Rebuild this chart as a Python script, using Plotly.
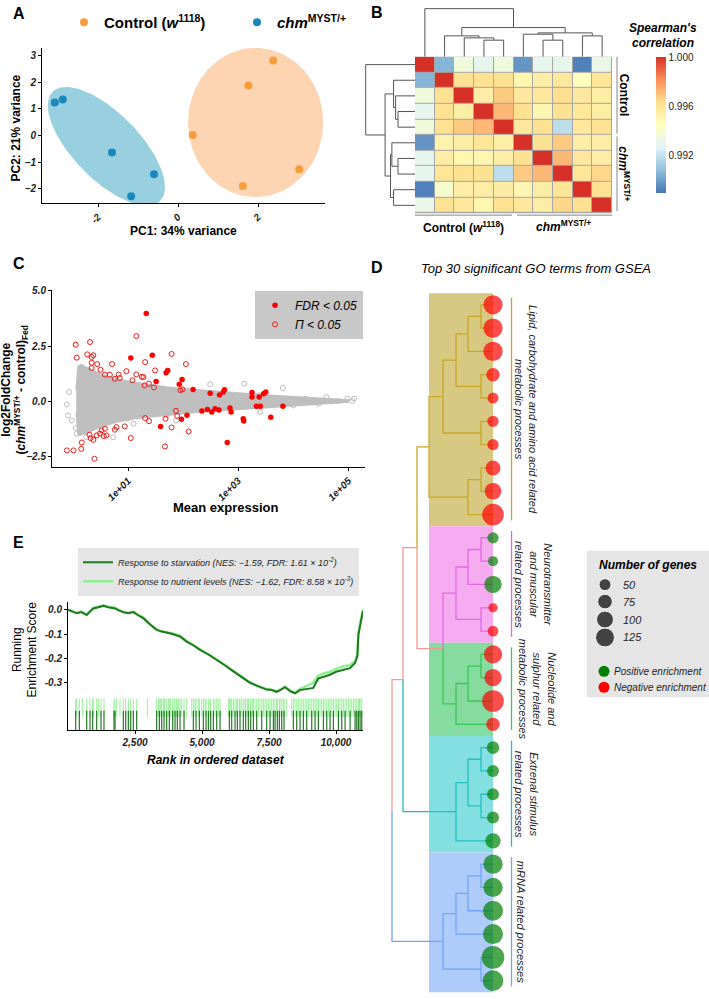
import numpy as np
import plotly.graph_objects as go

W, H = 709, 999
FONT = "Liberation Sans, Arial, Helvetica, sans-serif"


def X(px):
    return px / W


def Y(py):
    return 1 - py / H


# ---------------- Panel A: PCA ----------------
pca_control_pc1 = [0.37, 1.76, 2.38, 3.03, 1.62]
pca_control_pc2 = [0.02, 1.88, 2.82, -1.27, -1.90]
pca_chm_pc1 = [-3.08, -2.88, -1.65, -0.60, -1.17]
pca_chm_pc2 = [1.24, 1.35, -0.64, -1.46, -2.29]
# confidence ellipses: centre x, centre y, semi-axis 1 (dx, dy), semi-axis 2 (dx, dy)
ellipse_control = [1.94, 0.49, 1.69, 0.0, 0.0, 2.81]
ellipse_chm = [-1.79, -0.41, 1.34, -2.06, 0.59, 0.87]

# ---------------- Panel B: Spearman correlation heatmap ----------------
hm_z = [
    [1.0000, 0.9905, 0.9935, 0.9930, 0.9935, 0.9897, 0.9930, 0.9930, 0.9892, 0.9932],
    [0.9905, 1.0000, 0.9962, 0.9962, 0.9962, 0.9950, 0.9955, 0.9958, 0.9945, 0.9960],
    [0.9935, 0.9962, 1.0000, 0.9955, 0.9968, 0.9958, 0.9958, 0.9963, 0.9958, 0.9955],
    [0.9930, 0.9962, 0.9955, 1.0000, 0.9972, 0.9962, 0.9950, 0.9962, 0.9958, 0.9955],
    [0.9935, 0.9962, 0.9968, 0.9972, 1.0000, 0.9958, 0.9962, 0.9918, 0.9958, 0.9962],
    [0.9897, 0.9952, 0.9955, 0.9960, 0.9955, 1.0000, 0.9962, 0.9968, 0.9955, 0.9955],
    [0.9930, 0.9955, 0.9950, 0.9950, 0.9955, 0.9962, 1.0000, 0.9972, 0.9958, 0.9955],
    [0.9930, 0.9960, 0.9962, 0.9962, 0.9918, 0.9968, 0.9972, 1.0000, 0.9960, 0.9965],
    [0.9892, 0.9940, 0.9955, 0.9955, 0.9955, 0.9950, 0.9955, 0.9960, 1.0000, 0.9962],
    [0.9932, 0.9962, 0.9958, 0.9950, 0.9962, 0.9958, 0.9955, 0.9965, 0.9962, 1.0000],
]
hm_zmin, hm_zmax = 0.9889, 1.0
hm_colors = ["#4575B4", "#91BFDB", "#E0F3F8", "#FFFFBF", "#FEE090", "#FC8D59", "#D73027"]
hm_cbar_ticks = [0.992, 0.996, 1.000]
# hierarchical clustering (leaf a, leaf/node b, height)
hm_merges = [(3, 4, 50), (2, 10, 57), (1, 11, 63), (6, 7, 50), (5, 13, 68),
             (8, 9, 63), (14, 15, 72), (12, 16, 88), (0, 17, 145)]

# ---------------- Panel C: MA plot ----------------
ma_env_log10_mean = [0.06, 0.09, 0.13, 0.31, 0.49, 0.8, 1.1, 1.7, 2.3, 2.9, 3.5, 4.1, 4.7, 5.0]
ma_env_upper = [0.5, 1.55, 1.63, 1.47, 1.24, 1.0, 0.86, 0.64, 0.5, 0.38, 0.28, 0.18, 0.1, 0.05]
ma_env_lower = [-0.5, -1.5, -1.55, -1.4, -1.18, -0.95, -0.8, -0.64, -0.5, -0.38, -0.28, -0.18, -0.1, -0.05]
ma_ns_log10_mean = [-0.07, -0.11, -0.09, -0.02, 0.05, 0.16, 0.10, 0.24, 0.73, 2.49, 3.11, 3.81, 3.37,
                    4.22, 4.37, 4.52, 4.60, 4.70, 4.82, 4.98, 5.07, 5.10, 4.46, 4.00, 3.40, 1.87,
                    1.10, 1.70, 0.98, 0.07]
ma_ns_lfc = [0.41, -0.15, -0.65, -0.88, -1.23, 1.55, 0.71, -1.64, -1.64, 0.76, 0.79, 0.59, 0.26,
             0.11, 0.0, 0.0, 0.18, 0.0, 0.0, 0.11, 0.0, 0.11, -0.12, -0.2, -0.5, -0.88,
             -1.03, -0.65, -0.8, -1.48]
ma_fdr_log10_mean = [1.33, 1.05, 1.44, 1.69, 1.72, 1.51, 1.98, 1.93, 2.18, 2.49, 2.66, 2.75, 2.73,
                     3.25, 3.38, 3.25, 3.46, 3.50, 2.34, 2.44, 2.52, 2.58, 2.65, 2.85, 2.87, 3.09,
                     3.10, 3.33, 3.40, 3.81, 3.59, 2.80, 1.59, 1.97, 2.07]
ma_fdr_lfc = [3.98, 1.95, 2.08, 1.29, 1.39, 0.89, 0.98, 0.76, 0.53, 0.36, 0.27, 0.51, 0.41,
              0.39, 0.18, 0.18, 0.33, 0.41, -0.45, -0.38, -0.50, -0.35, -0.40, -0.32, -0.50, -0.80,
              -0.90, -0.23, -0.23, -0.23, -0.74, -1.88, -1.15, -0.82, -0.64]
ma_p_log10_mean = [0.05, 0.31, 1.15, 1.79, 1.31, 2.05, 0.07, 0.26, 0.34, 0.37, 0.34, 0.34, 0.44,
                   0.50, 0.71, 0.58, 0.67, 0.83, 0.85, 0.76, 0.97, 1.15, 1.25, 1.28, 1.49, 1.08,
                   1.38, 1.30, 1.47, 1.95, 1.99,
                   -0.11, 0.01, 0.15, 0.16, 0.39, 0.30, 0.32, 0.37, 0.43, 0.49, 0.52, 0.58, 0.61,
                   0.56, 0.76, 0.79, 0.94, 1.05, 1.31, 1.38, 1.67, 1.79, 1.68, 1.89, 2.10, 1.87]
ma_p_lfc = [2.56, 2.68, 2.95, 2.14, 1.77, 1.68, 1.97, 2.12, 2.00, 2.08, 1.74, 1.50, 1.68,
            1.42, 1.68, 1.20, 1.20, 1.20, 1.05, 1.01, 1.36, 1.21, 1.10, 1.09, 1.39, 0.94,
            0.79, 0.71, 0.62, 0.49, 0.53,
            -2.24, -2.24, -2.17, -1.88, -2.62, -1.53, -1.68, -1.76, -1.56, -1.48, -1.33, -1.26, -1.56,
            -1.59, -1.30, -1.18, -1.15, -1.68, -0.77, -0.91, -2.06, -1.20, -0.80, -0.67, -1.38, -0.44]

# ---------------- Panel D: GO term dendrogram ----------------
go_genes = [129, 129, 129, 62, 42, 44, 44, 78, 97, 163,
            44, 35, 104, 30, 40,
            116, 104, 163, 62,
            56, 50, 50, 50, 81,
            129, 129, 139, 139, 178, 148]
go_direction = ["neg"] * 10 + ["pos", "pos", "pos", "neg", "neg"] + ["neg"] * 4 + ["pos"] * 5 + ["pos"] * 6
go_cluster = [0] * 10 + [1] * 5 + [2] * 4 + [3] * 5 + [4] * 6
go_cluster_labels = [
    "Lipid, carbohydrate and amino acid related<br>metabolic processes",
    "Neurotransmitter<br>and muscular<br>related processes",
    "Nucleotide and<br>sulphur related<br>metabolic processes",
    "Extrenal stimulus<br>related processes",
    "mRNA related processes",
]
go_merges = [
    (0, 1, 0.12), (30, 2, 0.25), (3, 4, 0.12), (31, 32, 0.37), (5, 6, 0.12),
    (33, 34, 0.50), (7, 8, 0.12), (36, 9, 0.25), (35, 37, 0.64),
    (10, 11, 0.12), (39, 12, 0.25), (13, 14, 0.12), (40, 41, 0.37),
    (15, 16, 0.12), (43, 17, 0.25), (44, 18, 0.37), (42, 45, 0.50), (38, 46, 0.76),
    (19, 20, 0.12), (21, 22, 0.12), (48, 49, 0.25), (50, 23, 0.37), (47, 51, 0.90),
    (24, 25, 0.12), (53, 26, 0.25), (54, 27, 0.37), (28, 29, 0.12), (55, 56, 0.50),
    (52, 57, 1.01),
]
size_breaks = [50, 75, 100, 125]

# ---------------- Panel E: GSEA running score ----------------
es_rank = [0, 150, 323, 500, 696, 820, 945, 1130, 1318, 1500, 1754, 1900, 2065, 2250, 2438, 2600,
           2811, 3050, 3308, 3500, 3682, 3900, 4179, 4428, 4700, 4925, 5250, 5547, 5850, 6169,
           6500, 6791, 7100, 7413, 7600, 7786, 7950, 8097, 8300, 8470, 8650, 8781, 8950, 9154,
           9250, 9340, 9550, 9776, 10000, 10273, 10522, 10709, 10800, 10833, 10920, 11007]
es_starvation = [0.0, -0.008, -0.015, -0.010, -0.022, -0.008, 0.005, 0.010, 0.016, 0.010, 0.005,
                 -0.003, -0.011, -0.015, -0.010, -0.022, -0.035, -0.060, -0.083, -0.090, -0.094,
                 -0.100, -0.110, -0.131, -0.148, -0.165, -0.185, -0.205, -0.228, -0.253, -0.278,
                 -0.300, -0.315, -0.328, -0.330, -0.337, -0.328, -0.318, -0.335, -0.343, -0.330,
                 -0.328, -0.325, -0.321, -0.300, -0.282, -0.275, -0.267, -0.255, -0.246, -0.240,
                 -0.219, -0.190, -0.103, -0.050, -0.005]
es_nutrient = [0.0, -0.006, -0.013, -0.008, -0.020, -0.006, 0.007, 0.012, 0.018, 0.012, 0.008,
               -0.001, -0.009, -0.013, -0.008, -0.020, -0.033, -0.058, -0.081, -0.088, -0.092,
               -0.098, -0.108, -0.129, -0.146, -0.163, -0.183, -0.203, -0.226, -0.251, -0.276,
               -0.298, -0.313, -0.326, -0.328, -0.335, -0.326, -0.316, -0.332, -0.340, -0.326,
               -0.320, -0.310, -0.300, -0.283, -0.270, -0.262, -0.255, -0.243, -0.232, -0.228,
               -0.210, -0.180, -0.100, -0.045, 0.0]
hits_starvation = [286, 423, 697, 821, 921, 1070, 1232, 1343, 1717, 1754, 2065, 2152, 2252, 2339,
                   2438, 2563, 3309, 3409, 3496, 3583, 3682, 3782, 3906, 3993, 4080, 4180, 4329,
                   4677, 4777, 4901, 5051, 5150, 5237, 5324, 5424, 5548, 5673, 6021, 6108, 6232,
                   6319, 6419, 6543, 6630, 6730, 6817, 6917, 7041, 7228, 7414, 7539, 7663, 7725,
                   7812, 7887, 7974, 8061, 8409, 8534, 8658, 8783, 8907, 9094, 9218, 9343, 9530,
                   9654, 9779, 9903, 10090, 10214, 10339, 10526, 10712, 10774, 10836, 10898, 10960]
hits_nutrient_extra = [323, 547, 945, 1132, 1816, 1941, 2961, 3371, 3458, 3558, 3620, 3744, 3831,
                       3956, 4055, 4130, 4242, 4429, 4615, 4740, 4864, 4988, 5113, 5299, 5486,
                       5610, 5984, 6071, 6170, 6295, 6394, 6481, 6606, 6693, 6792, 6879, 6979,
                       7103, 7165, 7290, 7352, 7476, 7601, 7787, 7912, 8036, 8161, 8347, 8472,
                       8596, 8721, 8845, 8969, 9031, 9156, 9280, 9405, 9467, 9591, 9716, 9840,
                       9965, 10027, 10152, 10276, 10400, 10463, 10587, 10649, 10873]
hits_nutrient = sorted(hits_starvation + hits_nutrient_extra)

# ====================================================================
TICKFONT = dict(family=FONT, size=10, color="#222", weight="bold", style="italic")


def axis_style(**kw):
    d = dict(showgrid=False, zeroline=False, showline=True, linecolor="black", linewidth=1,
             ticks="outside", ticklen=3, tickwidth=1, tickcolor="black", tickfont=TICKFONT)
    d.update(kw)
    return d


def hidden(**kw):
    d = dict(visible=False, showgrid=False, zeroline=False)
    d.update(kw)
    return d


def ellipse_xy(p, n=160):
    t = np.linspace(0, 2 * np.pi, n)
    cx, cy, ux, uy, vx, vy = p
    return cx + ux * np.cos(t) + vx * np.sin(t), cy + uy * np.cos(t) + vy * np.sin(t)


def dendro(merges, leaf_pos, leaf_group=None):
    n = len(leaf_pos)
    pos = {i: leaf_pos[i] for i in range(n)}
    hgt = {i: 0.0 for i in range(n)}
    grp = {i: (leaf_group[i] if leaf_group else 0) for i in range(n)}
    segs = []
    for k, (a, b, h) in enumerate(merges):
        node = n + k
        mid = (pos[a] + pos[b]) / 2.0
        for c in (a, b):
            segs.append((grp[c], [pos[c], pos[c], mid], [hgt[c], h, h]))
        pos[node] = mid
        hgt[node] = h
        grp[node] = grp[a] if grp[a] == grp[b] else None
    return segs


def seg_xy(segs, key):
    P, Hh = [], []
    for g, p, h in segs:
        if g == key:
            P += p + [None]
            Hh += h + [None]
    return P, Hh


fig = go.Figure()

# ---- A ----
for p, col in [(ellipse_control, "#fdd5b3"), (ellipse_chm, "#98d0e0")]:
    ex, ey = ellipse_xy(p)
    fig.add_trace(go.Scatter(x=ex, y=ey, mode="lines", fill="toself", fillcolor=col,
                             line=dict(width=0), hoverinfo="skip", showlegend=False,
                             xaxis="x", yaxis="y"))
fig.add_trace(go.Scatter(x=pca_control_pc1, y=pca_control_pc2, mode="markers",
                         marker=dict(size=8, color="#f89c3c"),
                         name="<b>Control (<i>w</i><sup>1118</sup>)</b>", legend="legend",
                         xaxis="x", yaxis="y"))
fig.add_trace(go.Scatter(x=pca_chm_pc1, y=pca_chm_pc2, mode="markers",
                         marker=dict(size=8, color="#1789bf"),
                         name="<b><i>chm</i><sup>MYST/+</sup></b>", legend="legend",
                         xaxis="x", yaxis="y"))

# ---- B ----
n_hm = len(hm_z)
cs = [[i / (len(hm_colors) - 1), c] for i, c in enumerate(hm_colors)]
fig.add_trace(go.Heatmap(z=hm_z, x=list(range(n_hm)), y=list(range(n_hm)), colorscale=cs,
                         zmin=hm_zmin, zmax=hm_zmax, xgap=1, ygap=1, xaxis="x2", yaxis="y2",
                         hoverinfo="skip",
                         colorbar=dict(x=X(656), xanchor="left", y=Y(190), yanchor="bottom",
                                       len=(190 - 53) / H, lenmode="fraction", thickness=10,
                                       thicknessmode="pixels", outlinewidth=0, xpad=0, ypad=0,
                                       tickvals=hm_cbar_ticks,
                                       ticktext=["%.3f" % v for v in hm_cbar_ticks],
                                       ticks="", tickfont=dict(family=FONT, size=10, color="#222"))))
segs_hm = dendro(hm_merges, list(range(n_hm)))
P, Hh = seg_xy(segs_hm, 0)
fig.add_trace(go.Scatter(x=P, y=Hh, mode="lines", line=dict(color="#555", width=1),
                         hoverinfo="skip", showlegend=False, xaxis="x3", yaxis="y3"))
fig.add_trace(go.Scatter(x=Hh, y=P, mode="lines", line=dict(color="#555", width=1),
                         hoverinfo="skip", showlegend=False, xaxis="x4", yaxis="y4"))

# ---- C ----
env_x = [10 ** v for v in ma_env_log10_mean]
fig.add_trace(go.Scatter(x=env_x + env_x[::-1], y=ma_env_upper + ma_env_lower[::-1], mode="lines",
                         fill="toself", fillcolor="#bfbfbf", line=dict(color="#bfbfbf", width=1.5),
                         hoverinfo="skip", showlegend=False, xaxis="x5", yaxis="y5"))
fig.add_trace(go.Scatter(x=[10 ** v for v in ma_ns_log10_mean], y=ma_ns_lfc, mode="markers",
                         marker=dict(size=5, color="rgba(0,0,0,0)", line=dict(color="#bdbdbd", width=1)),
                         hoverinfo="skip", showlegend=False, xaxis="x5", yaxis="y5"))
fig.add_trace(go.Scatter(x=[10 ** v for v in ma_p_log10_mean], y=ma_p_lfc, mode="markers",
                         marker=dict(size=5, color="rgba(0,0,0,0)", line=dict(color="#ee1c1c", width=1)),
                         name="Π < 0.05", legend="legend2", legendrank=2, xaxis="x5", yaxis="y5"))
fig.add_trace(go.Scatter(x=[10 ** v for v in ma_fdr_log10_mean], y=ma_fdr_lfc, mode="markers",
                         marker=dict(size=5.5, color="#ff0000", line=dict(width=0)),
                         name="FDR < 0.05", legend="legend2", legendrank=1, xaxis="x5", yaxis="y5"))

# ---- D ----
segs_go = dendro(go_merges, [i + 1 for i in range(len(go_genes))], go_cluster)
go_line_colors = ["#c8a828", "#e268e2", "#3cc75a", "#22c0c0", "#72a5f7"]
go_bg_colors = ["#d7c982", "#f6aaf0", "#86dba0", "#84e0e0", "#aecbfa"]
for key, col in [(None, "#f79a93")] + list(enumerate(go_line_colors)):
    P, Hh = seg_xy(segs_go, key)
    fig.add_trace(go.Scatter(x=Hh, y=P, mode="lines", line=dict(color=col, width=1.3),
                             hoverinfo="skip", showlegend=False, xaxis="x7", yaxis="y7"))
SIZEREF = 2 * 50 / 12 ** 2
fig.add_trace(go.Scatter(x=[0] * len(go_genes), y=[i + 1 for i in range(len(go_genes))],
                         mode="markers", cliponaxis=False,
                         marker=dict(size=go_genes, sizemode="area", sizeref=SIZEREF,
                                     color=["#ff0000" if d == "neg" else "#008000" for d in go_direction],
                                     line=dict(width=0)),
                         hoverinfo="skip", showlegend=False, xaxis="x7", yaxis="y7"))
# D size / colour legend (drawn in its own small frame)
fig.add_trace(go.Scatter(x=[605] * len(size_breaks), y=[583, 600, 618, 636], mode="markers",
                         cliponaxis=False,
                         marker=dict(size=size_breaks, sizemode="area", sizeref=SIZEREF, color="black"),
                         hoverinfo="skip", showlegend=False, xaxis="x8", yaxis="y8"))
fig.add_trace(go.Scatter(x=[604, 604], y=[670, 686], mode="markers", cliponaxis=False,
                         marker=dict(size=11, color=["#008000", "#ff0000"]),
                         hoverinfo="skip", showlegend=False, xaxis="x8", yaxis="y8"))

# ---- E ----
fig.add_trace(go.Scatter(x=hits_nutrient, y=[-0.402] * len(hits_nutrient), mode="markers",
                         marker=dict(symbol="line-ns-open", size=13, color="rgba(144,238,144,0.9)",
                                     line=dict(width=1)),
                         hoverinfo="skip", showlegend=False, xaxis="x6", yaxis="y6"))
fig.add_trace(go.Scatter(x=hits_starvation, y=[-0.461] * len(hits_starvation), mode="markers",
                         marker=dict(symbol="line-ns-open", size=16, color="rgba(0,100,0,0.85)",
                                     line=dict(width=1.2)),
                         hoverinfo="skip", showlegend=False, xaxis="x6", yaxis="y6"))
fig.add_trace(go.Scatter(x=es_rank, y=es_nutrient, mode="lines", line=dict(color="#90ee90", width=2.5),
                         name="Response to nutrient levels (NES: −1.62, FDR: 8.58 × 10<sup>-3</sup>)",
                         legend="legend3", legendrank=2, xaxis="x6", yaxis="y6"))
fig.add_trace(go.Scatter(x=es_rank, y=es_starvation, mode="lines", line=dict(color="#1d7a1d", width=2),
                         name="Response to starvation (NES: −1.59, FDR: 1.61 × 10<sup>-2</sup>)",
                         legend="legend3", legendrank=1, xaxis="x6", yaxis="y6"))

# ================= annotations & shapes =================
ann = []


def A(text, x, y, size=12, bold=False, italic=False, angle=0, xanchor="center", color="black",
      yref="paper"):
    ann.append(dict(text=text, x=X(x), y=(Y(y) if yref == "paper" else y), xref="paper", yref=yref,
                    showarrow=False, textangle=angle, xanchor=xanchor, yanchor="middle",
                    font=dict(family=FONT, size=size, color=color,
                              weight="bold" if bold else "normal",
                              style="italic" if italic else "normal")))


for lab, x, y in [("A", 19, 10), ("B", 377, 9), ("C", 19, 261), ("D", 377, 265), ("E", 18, 541)]:
    A(lab, x, y, size=16, bold=True)

A("PC1: 34% variance", 183, 228, 12, bold=True)
A("PC2: 21% variance", 16, 125, 12, bold=True, angle=-90)

A("Spearman's", 663, 24, 12, bold=True, italic=True)
A("correlation", 663, 39, 12, bold=True, italic=True)
A("Control", 624, 91, 12, bold=True, angle=90)
A("<i>chm</i><sup>MYST/+</sup>", 624, 170, 12, bold=True, angle=90)
A("Control (<i>w</i><sup>1118</sup>)", 463, 224, 12, bold=True)
A("<i>chm</i><sup>MYST/+</sup>", 563, 223, 12, bold=True)

A("Mean expression", 226, 506, 13, bold=True)
A("log2FoldChange<br>(<i>chm</i><sup>MYST/+</sup> - control)<sub>Fed</sub>", 14, 388, 12, bold=True, angle=-90)

A("Rank in ordered dataset", 216, 759, 12, bold=True, italic=True)
A("Running<br>Enrichment Score", 25, 648, 12, angle=-90)

A("Top 30 significant GO terms from GSEA", 536, 266, 13, italic=True)
A("Number of genes", 648, 563, 12, bold=True, italic=True)
for v, y in zip(size_breaks, [583, 600, 618, 636]):
    A(str(v), 621, y, 11, italic=True, xanchor="left", color="#222")
A("Positive enrichment", 612, 670, 10, italic=True, xanchor="left", color="#222")
A("Negative enrichment", 612, 686, 10, italic=True, xanchor="left", color="#222")

shapes = []


def L(x0, y0, x1, y1, color="#888", width=1, yref="paper"):
    shapes.append(dict(type="line", xref="paper", yref=yref, x0=X(x0), x1=X(x1),
                       y0=(Y(y0) if yref == "paper" else y0), y1=(Y(y1) if yref == "paper" else y1),
                       line=dict(color=color, width=width)))


# heatmap cell borders
shapes.append(dict(type="rect", xref="x2 domain", yref="y2 domain", x0=0, x1=1, y0=0, y1=1,
                   fillcolor="#a6a6a6", line=dict(width=0), layer="below"))
L(617, 53, 617, 130)
L(617, 133, 617, 208)
L(415, 212, 512, 212)
L(517, 212, 612, 212)

# D cluster backgrounds, side bars and labels
go_label_x = [526, 533, 537, 527, 521]
for c in range(len(go_cluster_labels)):
    idx = [i + 1 for i, g in enumerate(go_cluster) if g == c]
    shapes.append(dict(type="rect", xref="x7", yref="y7", x0=0, x1=0.64,
                       y0=min(idx) - 0.5, y1=max(idx) + 0.5, fillcolor=go_bg_colors[c],
                       line=dict(width=0), layer="below"))
    y0, y1 = min(idx) - 0.3, max(idx) + 0.25
    L(511.5, y0, 511.5, y1, color=go_line_colors[c], width=1.3, yref="y7")
    A(go_cluster_labels[c], go_label_x[c], (y0 + y1) / 2, 11, italic=True, angle=90,
      color="#222", yref="y7")

# D legend box
shapes.append(dict(type="rect", xref="paper", yref="paper", x0=X(587), x1=X(709), y0=Y(696),
                   y1=Y(549), fillcolor="#e5e5e5", line=dict(width=0), layer="below"))

fig.update_layout(
    width=W, height=H, margin=dict(l=0, r=0, t=0, b=0),
    paper_bgcolor="white", plot_bgcolor="white", font=dict(family=FONT),
    annotations=ann, shapes=shapes,
    xaxis=axis_style(domain=[X(42), X(325)], range=[-3.4, 3.675], tickvals=[-2, 0, 2],
                     ticktext=["-2", "0", "2"], tickangle=-45, anchor="y"),
    yaxis=axis_style(domain=[Y(200), Y(44)], range=[-2.55, 3.3], tickvals=[-2, -1, 0, 1, 2, 3],
                     ticktext=["−2", "−1", "0", "1", "2", "3"], anchor="x"),
    xaxis2=hidden(domain=[X(415), X(612)], range=[-0.5, 9.5], anchor="y2"),
    yaxis2=hidden(domain=[Y(210), Y(53)], range=[9.5, -0.5], anchor="x2"),
    xaxis3=hidden(domain=[X(415), X(612)], range=[-0.5, 9.5], anchor="y3"),
    yaxis3=hidden(domain=[Y(53), Y(4)], range=[0, 147], anchor="x3"),
    xaxis4=hidden(domain=[X(364), X(415)], range=[150, 0], anchor="y4"),
    yaxis4=hidden(domain=[Y(210), Y(53)], range=[9.5, -0.5], anchor="x4"),
    xaxis5=axis_style(domain=[X(52), X(365)], type="log", range=[-0.38, 5.3],
                      tickvals=[10, 1000, 100000], ticktext=["1e+01", "1e+03", "1e+05"],
                      tickangle=-45, anchor="y5"),
    yaxis5=axis_style(domain=[Y(465), Y(287)], range=[-3.0, 5.05], tickvals=[-2.5, 0, 2.5, 5],
                      ticktext=["−2.5", "0.0", "2.5", "5.0"], anchor="x5"),
    xaxis6=axis_style(domain=[X(68), X(363)], range=[0, 11007], tickvals=[2500, 5000, 7500, 10000],
                      ticktext=["2,500", "5,000", "7,500", "10,000"], anchor="y6"),
    yaxis6=axis_style(domain=[Y(729), Y(600)], range=[-0.494, 0.033], tickvals=[0, -0.1, -0.2, -0.3],
                      ticktext=["0.0", "-0.1", "-0.2", "-0.3"], anchor="x6"),
    xaxis7=hidden(domain=[X(385), X(500)], range=[1.08, -0.07], anchor="y7"),
    yaxis7=hidden(domain=[Y(995), Y(285)], range=[30.615, 0.2735], anchor="x7"),
    xaxis8=hidden(domain=[X(587), X(708)], range=[587, 708], anchor="y8"),
    yaxis8=hidden(domain=[Y(696), Y(549)], range=[696, 549], anchor="x8"),
    legend=dict(x=X(64), y=Y(2), xanchor="left", yanchor="top", orientation="h",
                font=dict(family=FONT, size=15, color="black"), bgcolor="rgba(0,0,0,0)",
                itemwidth=30, tracegroupgap=0, entrywidth=128, entrywidthmode="pixels"),
    legend2=dict(x=X(255), y=Y(288), xanchor="left", yanchor="top",
                 font=dict(family=FONT, size=12, style="italic", color="black"),
                 bgcolor="#c8c8c8", itemwidth=30),
    legend3=dict(x=X(78), y=Y(546), xanchor="left", yanchor="top",
                 font=dict(family=FONT, size=9, style="italic", color="#222"),
                 bgcolor="#e5e5e5", itemwidth=30, tracegroupgap=0),
)

fig.write_html("out.html", config={"displayModeBar": False},
               post_script="document.body.style.margin='0px';document.body.style.overflow='hidden';")
